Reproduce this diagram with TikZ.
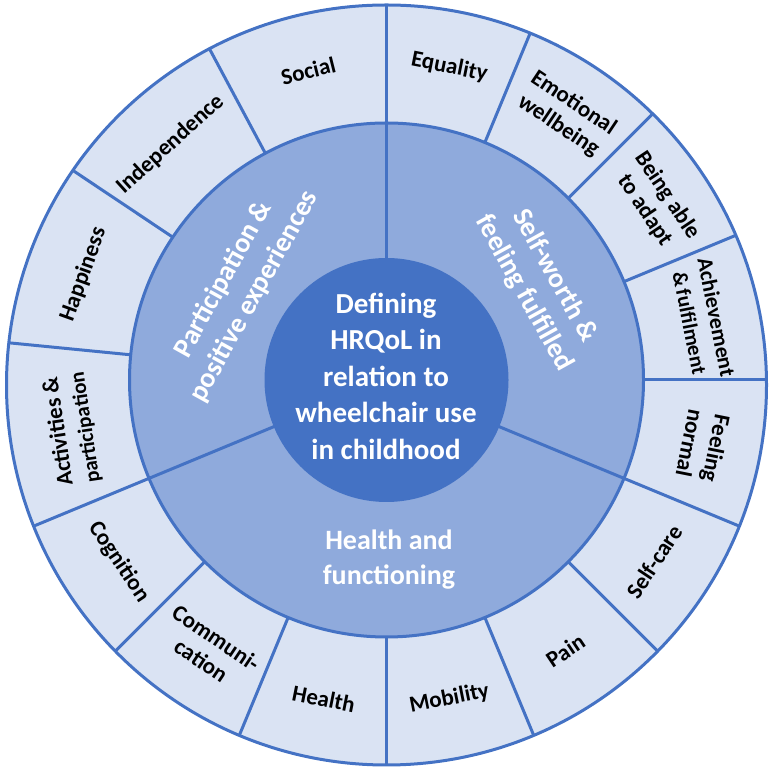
\documentclass[tikz,border=0pt]{standalone}
\usepackage{fontspec}
\setmainfont{Carlito}
\usetikzlibrary{calc}
\definecolor{ringlight}{HTML}{DAE3F3}
\definecolor{ringmid}{HTML}{8FAADC}
\definecolor{ringdark}{HTML}{4472C4}
\begin{document}
\begin{tikzpicture}[x=1pt,y=1pt,
  outerlabel/.style={font=\fontsize{23}{27}\selectfont\bfseries, align=center, text=black, inner sep=0pt},
  midlabel/.style={font=\fontsize{28}{35}\selectfont\bfseries, align=center, text=white, inner sep=0pt},
  centrelabel/.style={font=\fontsize{29}{36.5}\selectfont\bfseries, align=center, text=white, inner sep=0pt},
  ringline/.style={draw=ringdark, line width=3pt}]
\useasboundingbox (0,0) rectangle (773,773);
\coordinate (C) at (386.5,393);
\coordinate (O) at (386.5,388);
\coordinate (L) at (386.5,390);
% outer ring
\fill[ringlight] (O) circle (380);
\begin{scope}
  \clip (O) circle (380);
  \foreach \a in {90,118.125,146.25,174.375,202.5,225,247.5,270,292.5,315,337.5,0,22.5,45,67.5}
    \draw[ringline] ($(C)+(\a:255)$) -- ($(C)+(\a:400)$);
\end{scope}
% middle ring
\fill[ringmid] (C) circle (257);
\foreach \a in {90,202.5,-22.5}
  \draw[ringline] ($(C)+(\a:118)$) -- ($(C)+(\a:257)$);
% inner circle
\fill[ringdark] (C) circle (122);
\draw[ringline] (C) circle (257);
\draw[ringline] (O) circle (380);
% outer labels: top-left sector
\node[outerlabel, rotate=14.06] (social) at ($(L)+(104.06:322)$) {Social};
\node[outerlabel, rotate=42.19] (independence) at ($(L)+(132.19:322)$) {Independence};
\node[outerlabel, rotate=70.31] (happiness) at ($(L)+(160.31:322)$) {Happiness};
\node[outerlabel, rotate=98.44] (activities) at ($(L)+(188.44:318)$) {Activities \&\\{\fontsize{21}{27}\selectfont participation}};
% right sector
\node[outerlabel, rotate=-11.25] (equality) at ($(L)+(78.75:322)$) {Equality};
\node[outerlabel, rotate=-33.75] (emotional) at ($(L)+(56.25:323)$) {Emotional\\wellbeing};
\node[outerlabel, rotate=-56.25] (adapt) at ($(L)+(33.75:324)$) {Being able\\to adapt};
\node[outerlabel, rotate=-78.75, font=\fontsize{22}{27}\selectfont\bfseries] (achievement) at ($(L)+(11.25:323)$) {Achievement\\{\fontsize{21}{27}\selectfont\&\,fulfilment}};
\node[outerlabel, rotate=-101.25] (feelingnormal) at ($(L)+(-11.25:323)$) {Feeling\\normal};
% bottom sector
\node[outerlabel, rotate=56.25] (selfcare) at ($(L)+(-33.75:322)$) {Self-care};
\node[outerlabel, rotate=33.75] (pain) at ($(L)+(-56.25:322)$) {Pain};
\node[outerlabel, rotate=11.25] (mobility) at ($(L)+(-78.75:322)$) {Mobility};
\node[outerlabel, rotate=-11.25] (health) at ($(L)+(-101.25:322)$) {Health};
\node[outerlabel, rotate=-33.75] (communication) at ($(L)+(-123.75:320)$) {Communi-\\cation};
\node[outerlabel, rotate=-56.25] (cognition) at ($(L)+(-146.25:322)$) {Cognition};
% middle labels
\node[midlabel, rotate=61] (participationlbl) at ($(C)+(148:174)$) {Participation \&\\positive experiences};
\node[midlabel, rotate=-61] (selfworth) at ($(C)+(32:180)$) {Self-worth \&\\feeling fulfilled};
\node[midlabel] (healthfunc) at (389,213) {Health and\\functioning};
% centre
\node[centrelabel] (centre) at (386,397) {Defining\\HRQoL in\\relation to\\wheelchair use\\in childhood};
\end{tikzpicture}
\end{document}
